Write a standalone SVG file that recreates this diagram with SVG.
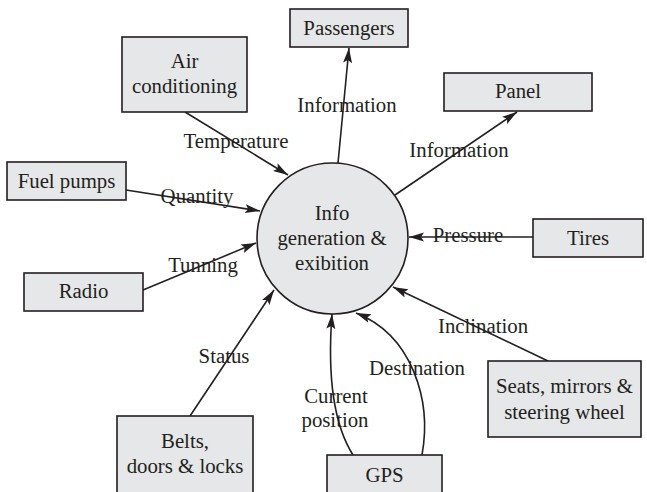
<svg xmlns="http://www.w3.org/2000/svg" width="647" height="492" viewBox="0 0 647 492">
<style>
.box{fill:#e6e7e8;stroke:#231f20;stroke-width:1.6}
.t{font-family:"Liberation Serif","Times New Roman",serif;font-size:20.8px;fill:#231f20;text-anchor:middle}
.c{fill:none;stroke:#231f20;stroke-width:1.6;marker-end:url(#ah)}
</style>
<defs>
<marker id="ah" markerUnits="userSpaceOnUse" markerWidth="16" markerHeight="10" viewBox="0 0 16 10" refX="15" refY="5" orient="auto">
<path d="M0,0.5 L15,5 L0,9.5 L3,5 Z" fill="#231f20"/>
</marker>
</defs>
<rect width="647" height="492" fill="#ffffff"/>
<g id="connectors">
<path class="c" d="M185,112 L288,175"/>
<path class="c" d="M126,190 L260,211"/>
<path class="c" d="M143,290 L256,243"/>
<path class="c" d="M190,416 L274,290"/>
<path class="c" d="M353,455 C334,425 327,380 332,314"/>
<path class="c" d="M422,455 C432,400 412,335 356,313"/>
<path class="c" d="M548,361 L393,287"/>
<path class="c" d="M533,237 L409,237"/>
<path class="c" d="M338,163 L349,48"/>
<path class="c" d="M395,195 L517,112"/>
<text class="t" x="236" y="148">Temperature</text>
<text class="t" x="197" y="203">Quantity</text>
<text class="t" x="203" y="272">Tunning</text>
<text class="t" x="224" y="363">Status</text>
<text class="t" x="336" y="403">Current</text>
<text class="t" x="335" y="427">position</text>
<text class="t" x="417" y="375">Destination</text>
<text class="t" x="483" y="333">Inclination</text>
<text class="t" x="468" y="242">Pressure</text>
<text class="t" x="347" y="112">Information</text>
<text class="t" x="459" y="157">Information</text>
</g>
<g id="center">
<circle cx="332.5" cy="238.5" r="75.5" class="box"/>
<text class="t" x="332" y="220">Info</text>
<text class="t" x="332" y="245">generation &amp;</text>
<text class="t" x="332" y="270">exibition</text>
</g>
<g id="passengers">
<rect class="box" x="290" y="9" width="118" height="38"/>
<text class="t" x="349" y="35">Passengers</text>
</g>
<g id="air-conditioning">
<rect class="box" x="122" y="37" width="125" height="75"/>
<text class="t" x="184.5" y="68">Air</text>
<text class="t" x="184.5" y="93">conditioning</text>
</g>
<g id="fuel-pumps">
<rect class="box" x="7" y="162" width="119" height="38"/>
<text class="t" x="66.5" y="188">Fuel pumps</text>
</g>
<g id="panel">
<rect class="box" x="444" y="73" width="148" height="38"/>
<text class="t" x="518" y="98">Panel</text>
</g>
<g id="tires">
<rect class="box" x="533" y="219" width="110" height="38"/>
<text class="t" x="588" y="245">Tires</text>
</g>
<g id="radio">
<rect class="box" x="24" y="273" width="119" height="38"/>
<text class="t" x="83.5" y="298">Radio</text>
</g>
<g id="belts">
<rect class="box" x="117" y="416" width="136" height="82"/>
<text class="t" x="185" y="448">Belts,</text>
<text class="t" x="185" y="473">doors &amp; locks</text>
</g>
<g id="gps">
<rect class="box" x="327" y="455" width="115" height="43"/>
<text class="t" x="384.5" y="482">GPS</text>
</g>
<g id="seats">
<rect class="box" x="488" y="361" width="153" height="76"/>
<text class="t" x="564.5" y="393">Seats, mirrors &amp;</text>
<text class="t" x="564.5" y="419">steering wheel</text>
</g>
</svg>
